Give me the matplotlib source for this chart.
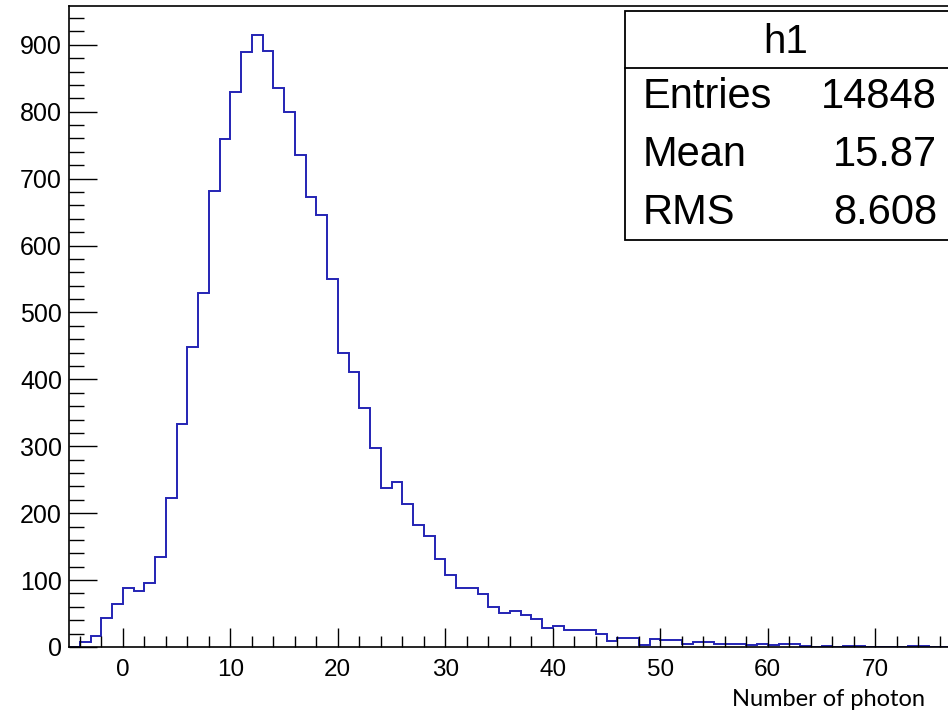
import numpy as np
import matplotlib
matplotlib.use('Agg')
import matplotlib.pyplot as plt
from matplotlib.patches import Rectangle
from matplotlib.lines import Line2D
from matplotlib.ticker import MultipleLocator

# histogram h1: one-unit bins, lower edges from -5
bin_start = -5
counts = [0, 8, 16, 43, 64, 88, 83, 95, 134, 223,
          334, 449, 529, 682, 759, 830, 889, 914, 891, 836,
          799, 735, 673, 646, 550, 440, 411, 357, 297, 237,
          246, 213, 183, 166, 131, 108, 88, 88, 79, 60,
          51, 54, 48, 42, 29, 31, 26, 26, 26, 19,
          9, 14, 14, 3, 12, 10, 10, 5, 8, 8,
          5, 5, 5, 3, 4, 3, 5, 5, 1, 0,
          2, 0, 2, 2, 0, 0, 0, 0, 2, 2,
          0, 0, 0, 0, 0]
edges = np.arange(bin_start, bin_start + len(counts) + 1)

stat_names = ['Entries', 'Mean', 'RMS']
stat_values = ['14848', '15.87', '8.608']
hist_name = 'h1'
x_label = 'Number of photon'
x_ticks = [0, 10, 20, 30, 40, 50, 60, 70]

plt.rcParams['font.family'] = ['Liberation Sans', 'DejaVu Sans']

W, H = 948, 713
fig = plt.figure(figsize=(W / 100, H / 100), dpi=100)

# axes frame placed in pixels, runs past the right edge like the original
x0, x1 = -5, 80
px_per_unit = 10.75
left, bottom, top = 69, 647, 6
ax = fig.add_axes([left / W, (H - bottom) / H,
                   (x1 - x0) * px_per_unit / W, (bottom - top) / H])

ax.stairs(counts, edges, color='#2424b4', linewidth=1.4)

ax.set_xlim(x0, x1)
ax.set_ylim(0, 958)
ax.set_xticks(x_ticks)
ax.xaxis.set_minor_locator(MultipleLocator(2))
ax.yaxis.set_major_locator(MultipleLocator(100))
ax.yaxis.set_minor_locator(MultipleLocator(20))

ax.tick_params(axis='x', which='major', direction='in', length=13.5, width=1,
               labelsize=17.5, pad=9, top=False)
ax.tick_params(axis='x', which='minor', direction='in', length=8, width=1, top=False)
ax.tick_params(axis='y', which='major', direction='in', length=20, width=1,
               labelsize=18, pad=5, right=False)
ax.tick_params(axis='y', which='minor', direction='in', length=11, width=1, right=False)
for s in ax.spines.values():
    s.set_linewidth(1.2)

fig.text(829 / W, 1 - 700 / H, x_label, family='Lato', fontsize=17,
         ha='center', va='center')

# stats box
bx0, by0, by1, sep = 625, 11, 240, 68
fig.patches.append(Rectangle((bx0 / W, 1 - by1 / H), (W + 20 - bx0) / W, (by1 - by0) / H,
                             transform=fig.transFigure, fill=True, facecolor='white',
                             edgecolor='black', linewidth=1.3, zorder=5))
fig.lines.append(Line2D([bx0 / W, 1.02], [1 - sep / H, 1 - sep / H],
                        transform=fig.transFigure, color='black', linewidth=1.3, zorder=6))
fig.text(786 / W, 1 - 42 / H, hist_name, fontsize=29,
         ha='center', va='center', zorder=7)
for i, (n, v) in enumerate(zip(stat_names, stat_values)):
    y = 1 - (97 + 58 * i) / H
    fig.text(643 / W, y, n, fontsize=30, ha='left', va='center', zorder=7)
    fig.text(937 / W, y, v, fontsize=30, ha='right', va='center', zorder=7)

fig.savefig('out.png', dpi=100)
